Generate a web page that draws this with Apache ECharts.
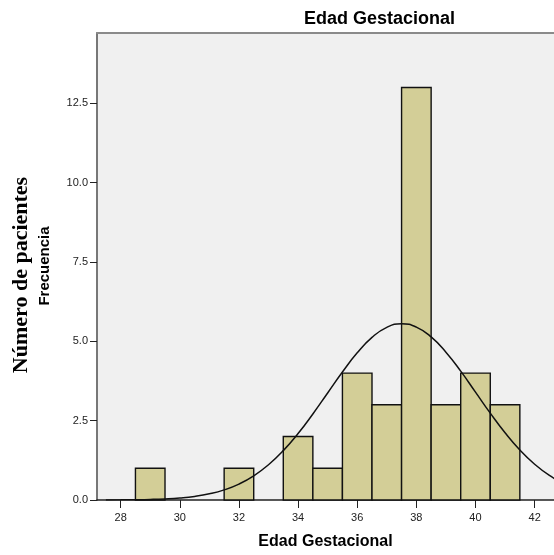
<!DOCTYPE html>
<html>
<head>
<meta charset="utf-8">
<script src="https://cdn.jsdelivr.net/npm/echarts@6/dist/echarts.min.js"></script>
<style>
  html, body { margin: 0; padding: 0; background: #fff; }
  #main { width: 554px; height: 555px; }
</style>
</head>
<body>
<div id="main"></div>
<script>
// histograma: centro de cada barra (ancho 1 semana) y frecuencia
var edades = [29, 32, 34, 35, 36, 37, 38, 39, 40, 41];
var frecuencias = [1, 1, 2, 1, 4, 3, 13, 3, 4, 3];
// curva normal
var curvaX = [27.5, 28, 28.5, 29, 29.5, 30, 30.5, 31, 31.5, 32, 32.5, 33, 33.5, 34, 34.5, 35, 35.5,
              36, 36.5, 37, 37.5, 38, 38.5, 39, 39.5, 40, 40.5, 41, 41.5, 42, 42.5, 43];
var curvaY = [0.002, 0.004, 0.009, 0.018, 0.035, 0.064, 0.113, 0.194, 0.318, 0.502, 0.762, 1.11, 1.556,
              2.095, 2.712, 3.374, 4.035, 4.638, 5.125, 5.443, 5.556, 5.451, 5.141, 4.66, 4.061, 3.401,
              2.737, 2.118, 1.575, 1.126, 0.774, 0.511];
var ticksX = [28, 30, 32, 34, 36, 38, 40, 42];
var ticksY = [0, 2.5, 5, 7.5, 10, 12.5];

var myChart = echarts.init(document.getElementById('main'));

var barras = edades.map(function (e, i) { return [e, frecuencias[i]]; });
var curva = curvaX.map(function (x, i) { return [x, curvaY[i]]; });

var sans = 'Liberation Sans, Arial, sans-serif';
var xMin = 27.2, xMax = 42.655;

option = {
    animation: false,
    backgroundColor: '#ffffff',
    graphic: [
        {
            type: 'text', x: 304, y: 19,
            style: { text: 'Edad Gestacional', font: 'bold 18px ' + sans, fill: '#000',
                     textAlign: 'left', textVerticalAlign: 'middle' }
        },
        {
            type: 'text', x: 45, y: 266, rotation: Math.PI / 2,
            style: { text: 'Frecuencia', font: 'bold 15px ' + sans, fill: '#000',
                     textAlign: 'center', textVerticalAlign: 'middle' }
        },
        {
            type: 'text', x: 21, y: 275, rotation: Math.PI / 2,
            style: { text: 'Número de pacientes', font: 'bold 22px Liberation Serif, Times New Roman, serif', fill: '#000',
                     textAlign: 'center', textVerticalAlign: 'middle' }
        }
    ],
    grid: {
        left: 97, top: 33, right: 0, bottom: 53,
        show: true, backgroundColor: '#f0f0f0', borderWidth: 0
    },
    xAxis: [
        {
            type: 'value', min: xMin, max: xMax,
            name: 'Edad Gestacional', nameLocation: 'middle', nameGap: 34,
            nameTextStyle: { fontFamily: sans, fontWeight: 'bold', fontSize: 16, color: '#000' },
            axisLine: { show: true, lineStyle: { color: '#222', width: 1.5 } },
            axisTick: { show: true, length: 8, customValues: ticksX, lineStyle: { color: '#222' } },
            axisLabel: { customValues: ticksX, color: '#222', fontFamily: sans, fontSize: 11, margin: 12 },
            splitLine: { show: false }
        },
        {
            // borde superior del marco
            type: 'value', min: xMin, max: xMax, position: 'top',
            axisLine: { show: true, lineStyle: { color: '#8a8a8a', width: 2 } },
            axisTick: { show: false }, axisLabel: { show: false }, splitLine: { show: false }
        }
    ],
    yAxis: {
        type: 'value', min: 0, max: 14.72,
        axisLine: { show: true, lineStyle: { color: '#777', width: 2 } },
        axisTick: { show: true, length: 7, customValues: ticksY, lineStyle: { color: '#222' } },
        axisLabel: {
            customValues: ticksY, color: '#222', fontFamily: sans, fontSize: 11, margin: 9,
            formatter: function (v) { return v.toFixed(1); }
        },
        splitLine: { show: false }
    },
    series: [
        {
            type: 'custom',
            data: barras,
            renderItem: function (params, api) {
                var x = api.value(0), y = api.value(1);
                var p0 = api.coord([x - 0.5, y]);
                var p1 = api.coord([x + 0.5, 0]);
                return {
                    type: 'rect',
                    shape: { x: p0[0], y: p0[1], width: p1[0] - p0[0], height: p1[1] - p0[1] },
                    style: { fill: '#d3ce97', stroke: '#111', lineWidth: 1.4 }
                };
            },
            z: 2
        },
        {
            type: 'line',
            data: curva,
            smooth: true,
            showSymbol: false,
            clip: true,
            lineStyle: { color: '#111', width: 1.5 },
            z: 3
        }
    ]
};

myChart.setOption(option);
window.addEventListener('resize', function () { myChart.resize(); });
</script>
</body>
</html>
